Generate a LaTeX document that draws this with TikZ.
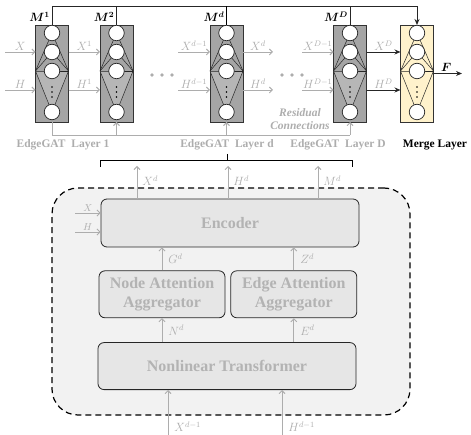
\documentclass[tikz,border=0pt]{standalone}
\usepackage{amsmath}
\usepackage{amssymb}
\usepackage{fontspec}
\setmainfont{Liberation Serif}
\usepackage{tikz}
\usetikzlibrary{positioning, arrows.meta, calc}
\definecolor{labelgray}{HTML}{ADADAD}
\definecolor{boxtext}{HTML}{B3B3B3}
\definecolor{boxfill}{HTML}{E6E6E6}
\definecolor{cellfill}{HTML}{F2F2F2}
\definecolor{blockgray}{HTML}{A5A5A5}
\definecolor{blocklight}{HTML}{B6B6B6}
\definecolor{mergefill}{HTML}{FFF2CC}
\tikzset{
  layerbox/.style={rectangle, draw=black!80, line width=0.8pt, minimum width=33pt, minimum height=97pt, inner sep=0pt, outer sep=0pt},
  neuron/.style={circle, draw=black!85, fill=white, line width=0.7pt, minimum size=15.5pt, inner sep=0pt},
  fanline/.style={black!85, line width=0.5pt},
  module/.style={rectangle, rounded corners=6pt, draw=black!85, line width=0.8pt, fill=boxfill, text=boxtext, align=center, font=\fontsize{16}{19}\selectfont\bfseries},
  aggbox/.style={minimum width=126pt, minimum height=47pt},
  cellbox/.style={rectangle, rounded corners=26pt, draw=black, line width=1.2pt, dash pattern=on 6pt off 4pt, fill=cellfill},
  wire/.style={draw=black!85, line width=0.9pt},
  garrow/.style={draw=labelgray, line width=0.9pt, -{Straight Barb[length=3pt, width=6pt]}},
  gline/.style={draw=labelgray, line width=0.9pt},
  barrow/.style={wire, -{Stealth[length=6pt, width=5pt]}},
  glabel/.style={text=labelgray, inner sep=1pt, font=\fontsize{12}{14}\selectfont},
  smalllabel/.style={glabel, font=\fontsize{10}{12}\selectfont},
  mlabel/.style={anchor=south east, inner sep=1pt, font=\fontsize{12}{14}\selectfont},
  layerlabel/.style={text=labelgray, font=\fontsize{11.5}{13}\selectfont\bfseries},
  reslabel/.style={text=labelgray, align=center, font=\fontsize{11.5}{13.5}\selectfont\bfseries\itshape}
}
% one EdgeGAT (or merge) block: name, centre x, fill, lower fill
\newcommand{\edgelayer}[4]{%
  \node (#1) [layerbox, fill=#3] at (#2,73.5) {};
  \path (#1.west) ++(0,-2.5) coordinate (#1-l);
  \path (#1.east) ++(0,-2.5) coordinate (#1-r);
  \fill[#4] (#1-l) -- (#2,112) -- (#1-r) -- cycle;
  \foreach \cy in {33,52,71,112} \draw[fanline] (#1-l) -- (#2,\cy) -- (#1-r);
  \foreach \cy [count=\k] in {33,52,71,112} \node (#1-n\k) [neuron] at (#2,\cy) {};
  \foreach \cy in {87,92,97} \fill[black] (#2,\cy) circle (0.9);
}
\begin{document}
\begin{tikzpicture}[x=1pt, y=-1pt]
    \useasboundingbox (0,0) rectangle (471,435);
    \coordinate (topline) at (0,6);
    \coordinate (xrow) at (0,52);
    \coordinate (hrow) at (0,90);
    \coordinate (resrow) at (0,135);
    \coordinate (brkrow) at (0,160);

    % layers
    \edgelayer{L1}{52}{blockgray}{blocklight}
    \edgelayer{L2}{116.5}{blockgray}{blocklight}
    \edgelayer{Ld}{226.5}{blockgray}{blocklight}
    \edgelayer{LD}{350}{blockgray}{blocklight}
    \edgelayer{merge}{417}{mergefill}{mergefill}

    % M outputs to the merge layer
    \draw[barrow] (L1.north) -- (L1.north |- topline) -| (merge.north);
    \draw[wire] (L2.north) -- (L2.north |- topline);
    \draw[wire, line width=1.4pt, black] (Ld.north) -- (Ld.north |- topline);
    \draw[wire] (LD.north) -- (LD.north |- topline);
    \node (m1) [mlabel] at ([xshift=-1pt, yshift=2pt]L1.north) {$\boldsymbol{M^1}$};
    \node (m2) [mlabel] at ([xshift=-1pt, yshift=2pt]L2.north) {$\boldsymbol{M^2}$};
    \node (md) [mlabel] at ([xshift=-1pt, yshift=2pt]Ld.north) {$\boldsymbol{M^d}$};
    \node (mD) [mlabel] at ([xshift=-1pt, yshift=2pt]LD.north) {$\boldsymbol{M^D}$};

    % X and H between the layers
    \coordinate (xin) at (5,52);
    \coordinate (hin) at (5,90);
    \coordinate (xdm) at (178,52);
    \coordinate (hdm) at (178,90);
    \coordinate (xd) at (273,52);
    \coordinate (hd) at (273,90);
    \coordinate (xDm) at (302,52);
    \coordinate (hDm) at (302,90);
    \draw[garrow] (xin) -- (L1.west |- xrow) node[glabel, midway, above] {$X$};
    \draw[garrow] (hin) -- (L1.west |- hrow) node[glabel, midway, above] {$H$};
    \draw[garrow] (L1.east |- xrow) -- (L2.west |- xrow) node[glabel, midway, above] {$X^1$};
    \draw[garrow] (L1.east |- hrow) -- (L2.west |- hrow) node[glabel, midway, above] {$H^1$};
    \draw[garrow] (xdm) -- (Ld.west |- xrow) node[glabel, midway, above] {$X^{d-1}$};
    \draw[garrow] (hdm) -- (Ld.west |- hrow) node[glabel, midway, above] {$H^{d-1}$};
    \draw[garrow] (Ld.east |- xrow) -- (xd) node[glabel, midway, above] {$X^d$};
    \draw[garrow] (Ld.east |- hrow) -- (hd) node[glabel, midway, above] {$H^d$};
    \draw[garrow] (xDm) -- (LD.west |- xrow) node[glabel, midway, above] {$X^{D-1}$};
    \draw[garrow] (hDm) -- (LD.west |- hrow) node[glabel, midway, above] {$H^{D-1}$};
    \draw[barrow] (LD.east |- xrow) -- (merge.west |- xrow) node[glabel, midway, above] {$X^D$};
    \draw[barrow] (LD.east |- hrow) -- (merge.west |- hrow) node[glabel, midway, above] {$H^D$};
    \coordinate (fout) at (462,73.5);
    \draw[barrow] (merge.east) -- (fout) node[pos=0.45, above, inner sep=2pt, font=\fontsize{12}{14}\selectfont] {$\boldsymbol{F}$};
    \foreach \dx in {-10,0,10} {
        \fill[labelgray] (162+\dx,75) circle (1.8);
        \fill[labelgray] (292+\dx,75) circle (1.8);
    }

    % residual connections
    \draw[gline] (L1.south) -- (L1.south |- resrow) -- (LD.south |- resrow);
    \foreach \l in {L2, Ld, LD} \draw[garrow] (\l.south |- resrow) -- (\l.south);
    \node (res) [reslabel] at (300,119) {Residual\\Connections};

    \node (lab1) [layerlabel] at (63,145) {EdgeGAT~~Layer 1};
    \node (labd) [layerlabel] at (227,145) {EdgeGAT~~Layer d};
    \node (labD) [layerlabel] at (338,145) {EdgeGAT~~Layer D};
    \node (labM) [layerlabel, text=black] at (435,145) {Merge Layer};

    % bracket to the layer detail
    \coordinate (brkL) at (100,167);
    \coordinate (brkR) at (352,167);
    \draw[wire, black] (labd.south) -- (labd.south |- brkrow);
    \draw[wire, black] (brkL) -- (brkL |- brkrow) -- (brkR |- brkrow) -- (brkR);

    % one EdgeGAT layer
    \node (cell) [cellbox, minimum width=358pt, minimum height=227pt] at (231,301.5) {};
    \node (enc) [module, minimum width=258pt, minimum height=48pt] at (230,223) {Encoder};
    \node (nagg) [module, aggbox, below right=23pt and -2pt of enc.south west] {Node Attention\\Aggregator};
    \node (eagg) [module, aggbox, right=5pt of nagg] {Edge Attention\\Aggregator};
    \node (trans) [module, minimum width=258pt, minimum height=47pt, below right=24pt and -1pt of nagg.south west] {Nonlinear Transformer};

    \draw[garrow] (nagg.north) -- (nagg.north |- enc.south) node[glabel, midway, right=5pt] {$G^d$};
    \draw[garrow] (eagg.north) -- (eagg.north |- enc.south) node[glabel, midway, right=5pt] {$Z^d$};
    \draw[garrow] (nagg.south |- trans.north) -- (nagg.south) node[glabel, midway, right=5pt] {$N^d$};
    \draw[garrow] (eagg.south |- trans.north) -- (eagg.south) node[glabel, midway, right=5pt] {$E^d$};

    \coordinate (oX) at (137,166);
    \coordinate (oH) at (228,166);
    \coordinate (oM) at (318,166);
    \foreach \o/\t in {oX/X^d, oH/H^d, oM/M^d}
        \draw[garrow] (\o |- enc.north) -- (\o) node[glabel, pos=0.55, right=4pt] {$\t$};

    \coordinate (eX) at (75,213);
    \coordinate (eH) at (75,232);
    \draw[garrow] (eX) -- (eX -| enc.west) node[smalllabel, midway, above] {$X$};
    \draw[garrow] (eH) -- (eH -| enc.west) node[smalllabel, midway, above] {$H$};

    \coordinate (iX) at (168,435);
    \coordinate (iH) at (282,435);
    \draw[garrow] (iX) -- (iX |- trans.south) node[glabel, pos=0.18, right=5pt] {$X^{d-1}$};
    \draw[garrow] (iH) -- (iH |- trans.south) node[glabel, pos=0.18, right=5pt] {$H^{d-1}$};
\end{tikzpicture}
\end{document}
